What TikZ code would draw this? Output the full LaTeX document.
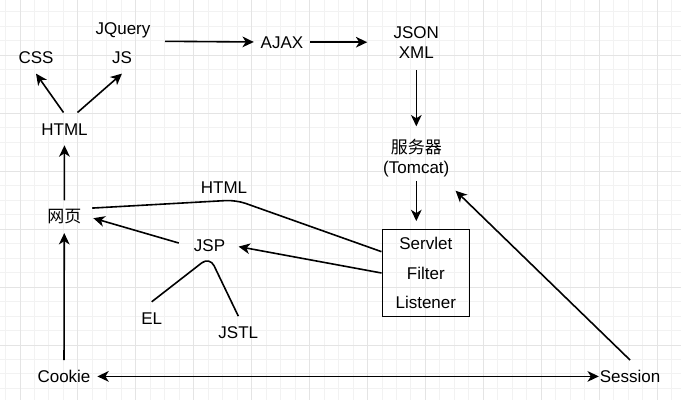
\documentclass[tikz,border=0pt]{standalone}
\usepackage{fontspec}
\setmainfont{Liberation Sans}
\newfontfamily\cjk{Noto Sans CJK SC}
\usetikzlibrary{arrows.meta}
\definecolor{gridminor}{RGB}{242,242,242}
\definecolor{gridmajor}{RGB}{228,228,228}
\begin{document}
\begin{tikzpicture}[x=0.75pt,y=-0.75pt,
  lbl/.style={font=\fontsize{12.75}{15}\selectfont,inner xsep=5pt,inner ysep=7.5pt,text height=9.2pt,text depth=0pt},
  multi/.style={font=\fontsize{12.75}{15}\selectfont,align=center,inner xsep=0pt},
  webbox/.style={draw,line width=1.2pt,font=\fontsize{12.75}{21.9}\selectfont,align=center,minimum width=65.25pt,minimum height=65.25pt,inner sep=0pt},
  conn/.style={line width=1.2pt},
  arr/.style={conn,-{Stealth[length=8.5pt,width=8pt,inset=2.5pt]}},
  darr/.style={conn,{Stealth[length=8.5pt,width=8pt,inset=2.5pt]}-{Stealth[length=8.5pt,width=8pt,inset=2.5pt]}}]
\useasboundingbox (0,0) rectangle (681,400);
\fill[white] (0,0) rectangle (681,400);
\foreach \i in {0,...,46}
{
\draw[gridminor,line width=0.75pt] ({5.52+14.48*\i},0) -- ({5.52+14.48*\i},400);
}
\foreach \j in {0,...,27}
{
\draw[gridminor,line width=0.75pt] (0,{-2.5+14.48*\j}) -- (681,{-2.5+14.48*\j});
}
\foreach \i in {0,...,11}
{
\draw[gridmajor,line width=0.75pt] ({20+57.92*\i},0) -- ({20+57.92*\i},400);
}
\foreach \j in {0,...,6}
{
\draw[gridmajor,line width=0.75pt] (0,{-2.5+57.92*\j}) -- (681,{-2.5+57.92*\j});
}

\node[lbl] (jquery) at (123,28.5) {JQuery};
\node[lbl] (css) at (36,57.2) {CSS};
\node[lbl] (js) at (122,57.2) {JS};
\node[lbl] (html) at (64.5,128.9) {HTML};
\node[lbl] (ajax) at (282,42.2) {AJAX};
\node[multi,minimum width=73.2pt,inner ysep=8.8pt] (data) at (416.3,42.2) {JSON\\XML};
\node[multi,minimum width=58.5pt,inner ysep=9.75pt] (server) at (416.3,158.5) {{\cjk 服务器}\\(Tomcat)};
\node[lbl] (page) at (64.3,216.7) {\cjk 网页};
\node[lbl] (htmlout) at (224,187.2) {HTML};
\node[lbl] (jsp) at (209.5,245.4) {JSP};
\node[lbl] (el) at (151.7,318.2) {EL};
\node[lbl] (jstl) at (238.3,332.5) {JSTL};
\node[webbox] (web) at (425.8,273) {Servlet\\Filter\\Listener};
\node[lbl] (cookie) at (64,376.4) {Cookie};
\node[lbl] (session) at (630,376.4) {Session};

\coordinate (jqout) at (165,41.3);
\coordinate (jsptop) at (209.7,256.7);
\coordinate (bend) at (236,200);

\draw[arr] (jqout) -- (ajax);
\draw[arr] (ajax) -- (data);
\draw[arr] (data.south) -- (server.north);
\draw[arr,shorten <=-7.3pt,shorten >=5.7pt] (server.south) -- (server.south |- web.north);
\draw[arr] (session.north) -- (server.south east);
\draw[darr,shorten >=-4.5pt] (cookie) -- (session);
\draw[arr] (cookie) -- (page);
\draw[arr] (page) -- (html);
\draw[arr] ([xshift=-0.75pt]html.north) -- (css.south);
\draw[arr] ([xshift=9.75pt]html.north) -- (js.south);
\draw[arr,shorten <=6.4pt,shorten >=4pt] (jsp.west) -- (page.east);
\draw[arr,shorten >=5pt] (web.west) -- (jsp.east);
\draw[conn,rounded corners=7.5pt,shorten >=3pt] ([yshift=16pt]web.west) -- (bend) -- ([yshift=6.3pt]page.east);
\draw[conn,rounded corners=7.5pt] (el.north) -- (jsptop) -- (jstl.north);
\end{tikzpicture}
\end{document}
